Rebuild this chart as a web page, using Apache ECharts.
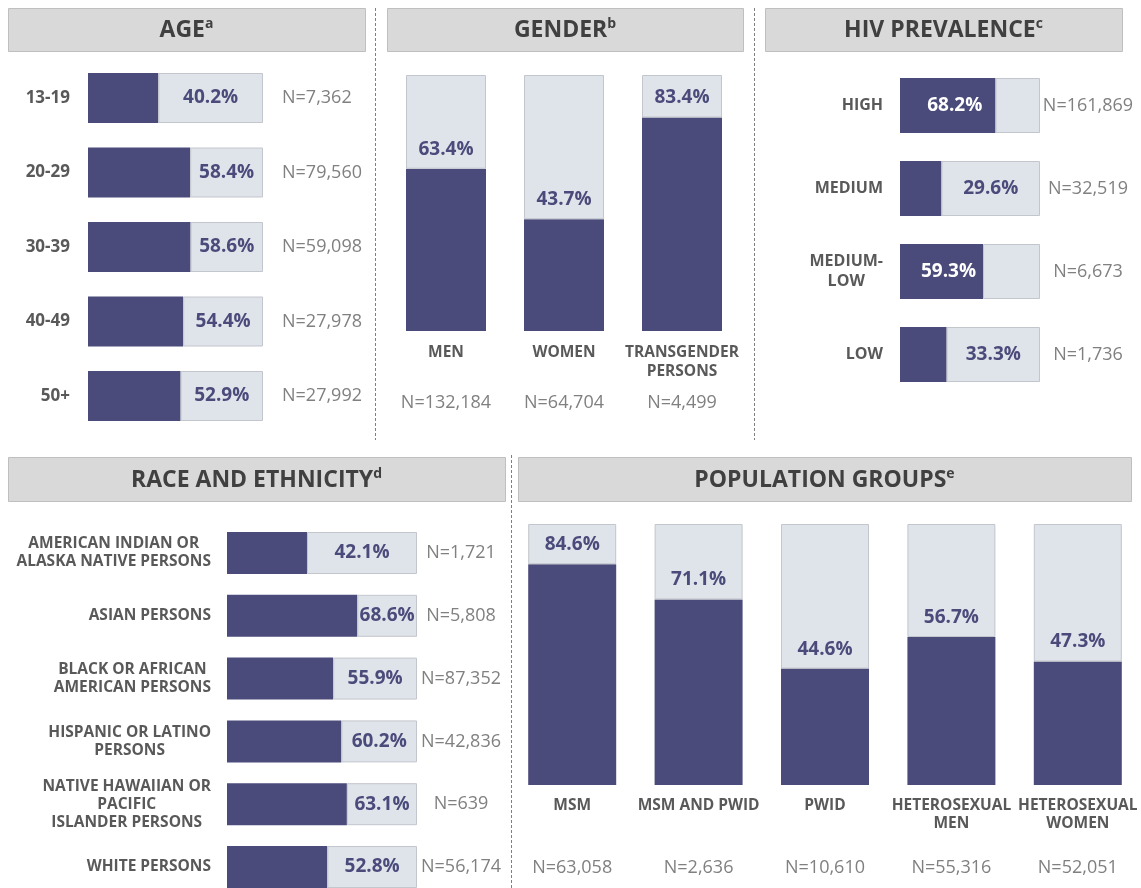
<!DOCTYPE html>
<html>
<head>
<meta charset="utf-8">
<script src="https://cdn.jsdelivr.net/npm/echarts@6/dist/echarts.min.js"></script>
<style>
  html, body { margin: 0; padding: 0; background: #fff; }
  #main { width: 1141px; height: 888px; }
</style>
</head>
<body>
<div id="main"></div>
<script>
// ---- data ----
const ageCats = ['13-19', '20-29', '30-39', '40-49', '50+']
const ageVals = [40.2, 58.4, 58.6, 54.4, 52.9]
const ageN = ['N=7,362', 'N=79,560', 'N=59,098', 'N=27,978', 'N=27,992']

const genderCats = ['MEN', 'WOMEN', 'TRANSGENDER\nPERSONS']
const genderVals = [63.4, 43.7, 83.4]
const genderN = ['N=132,184', 'N=64,704', 'N=4,499']

const hivCats = ['HIGH', 'MEDIUM', 'MEDIUM-\nLOW', 'LOW']
const hivVals = [68.2, 29.6, 59.3, 33.3]
const hivN = ['N=161,869', 'N=32,519', 'N=6,673', 'N=1,736']

const raceCats = [
  'AMERICAN INDIAN OR\nALASKA NATIVE PERSONS',
  'ASIAN PERSONS',
  'BLACK OR AFRICAN\nAMERICAN PERSONS',
  'HISPANIC OR LATINO\nPERSONS',
  'NATIVE HAWAIIAN OR\nPACIFIC\nISLANDER PERSONS',
  'WHITE PERSONS'
]
const raceVals = [42.1, 68.6, 55.9, 60.2, 63.1, 52.8]
const raceN = ['N=1,721', 'N=5,808', 'N=87,352', 'N=42,836', 'N=639', 'N=56,174']

const popCats = ['MSM', 'MSM AND PWID', 'PWID', 'HETEROSEXUAL\nMEN', 'HETEROSEXUAL\nWOMEN']
const popVals = [84.6, 71.1, 44.6, 56.7, 47.3]
const popN = ['N=63,058', 'N=2,636', 'N=10,610', 'N=55,316', 'N=52,051']

const panelTitles = ['AGE', 'GENDER', 'HIV PREVALENCE', 'RACE AND ETHNICITY', 'POPULATION GROUPS']
const panelNotes = ['a', 'b', 'c', 'd', 'e']

// ---- styles ----
const FONT = '"Open Sans", "DejaVu Sans", sans-serif'
const DARK = '#4b4b7b'
const LIGHT = '#dfe3ea'
const EDGE = '#c3c6cc'
const CAT_COLOR = '#595959'
const N_COLOR = '#808080'
const N_SIZE = 18

const chart = echarts.init(document.getElementById('main'))

const grids = []
const xAxes = []
const yAxes = []
const series = []

const pct = v => v.toFixed(1) + '%'
const valueLabel = { color: DARK, fontSize: 19, fontWeight: 'bold', fontFamily: FONT }

// multi-line category labels with each line centred inside the block
function centredLines(v) {
  return v.split('\n').map(l => '{c|' + l + '}').join('\n')
}

// horizontal stacked bars (value 0..100)
function hPanel(cats, vals, nLabels, g, o) {
  const gi = grids.length
  grids.push({ left: g.left, top: g.top, width: g.width, height: g.height })
  const xi = xAxes.length
  xAxes.push({ type: 'value', gridIndex: gi, min: 0, max: 100, show: false })
  const yi = yAxes.length
  yAxes.push({
    type: 'category', gridIndex: gi, data: cats, inverse: true, boundaryGap: o.gap,
    axisLine: { show: false }, axisTick: { show: false },
    axisLabel: {
      interval: 0, margin: o.catMargin, color: CAT_COLOR, fontSize: o.catSize,
      fontWeight: 'bold', fontFamily: FONT, lineHeight: o.catLine,
      formatter: centredLines,
      rich: { c: { align: 'center', color: CAT_COLOR, fontSize: o.catSize, fontWeight: 'bold', fontFamily: FONT, lineHeight: o.catLine } }
    }
  })
  yAxes.push({
    type: 'category', gridIndex: gi, data: nLabels, inverse: true, position: 'right', boundaryGap: o.gap,
    axisLine: { show: false }, axisTick: { show: false },
    axisLabel: { interval: 0, margin: o.nMargin, align: o.nAlign, color: N_COLOR, fontSize: N_SIZE, fontFamily: FONT }
  })
  const inDark = o.inDark || []
  series.push({
    type: 'bar', xAxisIndex: xi, yAxisIndex: yi, stack: 's' + gi, barWidth: g.bar,
    itemStyle: { color: DARK }, silent: true,
    data: vals.map((v, i) => ({
      value: v,
      label: inDark[i]
        ? Object.assign({ show: true, position: 'inside', formatter: pct(v) }, valueLabel, { color: '#ffffff', offset: [7, 0] })
        : { show: false }
    }))
  })
  series.push({
    type: 'bar', xAxisIndex: xi, yAxisIndex: yi, stack: 's' + gi, barWidth: g.bar,
    itemStyle: { color: LIGHT, borderColor: EDGE, borderWidth: 1 }, silent: true,
    data: vals.map((v, i) => ({
      value: +(100 - v).toFixed(1),
      label: inDark[i]
        ? { show: false }
        : Object.assign({ show: true, position: 'inside', formatter: pct(v) }, valueLabel)
    }))
  })
}

// vertical stacked bars (value 0..100)
function vPanel(cats, vals, nLabels, g, o) {
  const gi = grids.length
  grids.push({ left: g.left, top: g.top, width: g.width, height: g.height })
  const yi = yAxes.length
  yAxes.push({ type: 'value', gridIndex: gi, min: 0, max: 100, show: false })
  const xi = xAxes.length
  xAxes.push({
    type: 'category', gridIndex: gi, data: cats, position: 'bottom',
    axisLine: { show: false }, axisTick: { show: false },
    axisLabel: { interval: 0, margin: o.catMargin, color: CAT_COLOR, fontSize: 15.5, fontWeight: 'bold', fontFamily: FONT, lineHeight: o.catLine }
  })
  xAxes.push({
    type: 'category', gridIndex: gi, data: nLabels, position: 'bottom', offset: o.nOffset,
    axisLine: { show: false }, axisTick: { show: false },
    axisLabel: { interval: 0, margin: 0, color: N_COLOR, fontSize: N_SIZE, fontFamily: FONT }
  })
  series.push({
    type: 'bar', xAxisIndex: xi, yAxisIndex: yi, stack: 's' + gi, barWidth: g.bar,
    itemStyle: { color: DARK }, silent: true, data: vals
  })
  series.push({
    type: 'bar', xAxisIndex: xi, yAxisIndex: yi, stack: 's' + gi, barWidth: g.bar,
    itemStyle: { color: LIGHT, borderColor: EDGE, borderWidth: 1 }, silent: true,
    data: vals.map(v => +(100 - v).toFixed(1)),
    label: Object.assign({
      show: true, position: 'insideBottom', distance: 10,
      formatter: p => pct(vals[p.dataIndex])
    }, valueLabel)
  })
}

hPanel(ageCats, ageVals, ageN,
  { left: 88, top: 60.75, width: 175, height: 372.5, bar: 50 },
  { gap: true, catMargin: 18, catSize: 17, catLine: 20, nMargin: 19, nAlign: 'left' })

vPanel(genderCats, genderVals, genderN,
  { left: 387, top: 75, width: 354, height: 256, bar: 80 },
  { catMargin: 12, catLine: 19, nOffset: 63 })

hPanel(hivCats, hivVals, hivN,
  { left: 900, top: 64, width: 140, height: 332, bar: 55 },
  { gap: true, catMargin: 17, catSize: 16, catLine: 20, nMargin: 48, nAlign: 'center', inDark: [true, false, true, false] })

// bars centred on ticks so the last row can run off the bottom edge
hPanel(raceCats, raceVals, raceN,
  { left: 227, top: 553, width: 190, height: 314, bar: 42 },
  { gap: false, catMargin: 16, catSize: 15.5, catLine: 18, nMargin: 44, nAlign: 'center' })

vPanel(popCats, popVals, popN,
  { left: 509, top: 524, width: 634.5, height: 261, bar: 88 },
  { catMargin: 12, catLine: 18, nOffset: 74 })

// ---- title boxes and dashed dividers ----
const boxes = [
  [8, 8, 357, 43], [387, 8, 356, 43], [765, 8, 357, 43],
  [8, 457, 497, 44], [518, 457, 613, 44]
]
const graphic = []
boxes.forEach((b, i) => {
  graphic.push({
    type: 'rect', silent: true,
    shape: { x: b[0] + 0.5, y: b[1] + 0.5, width: b[2], height: b[3] },
    style: { fill: '#d9d9d9', stroke: '#bfbfbf', lineWidth: 1 }
  })
  graphic.push({
    type: 'text', silent: true,
    x: b[0] + b[2] / 2, y: b[1] + b[3] / 2 + 1,
    style: {
      text: '{t|' + panelTitles[i] + '}{s|' + panelNotes[i] + '}',
      align: 'center', verticalAlign: 'middle',
      rich: {
        t: { fontSize: 23, fontWeight: 'bold', fontFamily: FONT, fill: '#404040', lineHeight: 26 },
        s: { fontSize: 14, fontWeight: 'bold', fontFamily: FONT, fill: '#404040', lineHeight: 14, verticalAlign: 'top' }
      }
    }
  })
})
const dividers = [[375.5, 8, 375.5, 440], [754.5, 8, 754.5, 440], [511.5, 455, 511.5, 888]]
dividers.forEach(d => {
  graphic.push({
    type: 'line', silent: true,
    shape: { x1: d[0], y1: d[1], x2: d[2], y2: d[3] },
    style: { stroke: '#7f7f7f', lineWidth: 1, lineDash: [3, 2] }
  })
})

chart.setOption({
  animation: false,
  textStyle: { fontFamily: FONT },
  grid: grids,
  xAxis: xAxes,
  yAxis: yAxes,
  series: series,
  graphic: graphic
})
</script>
</body>
</html>
